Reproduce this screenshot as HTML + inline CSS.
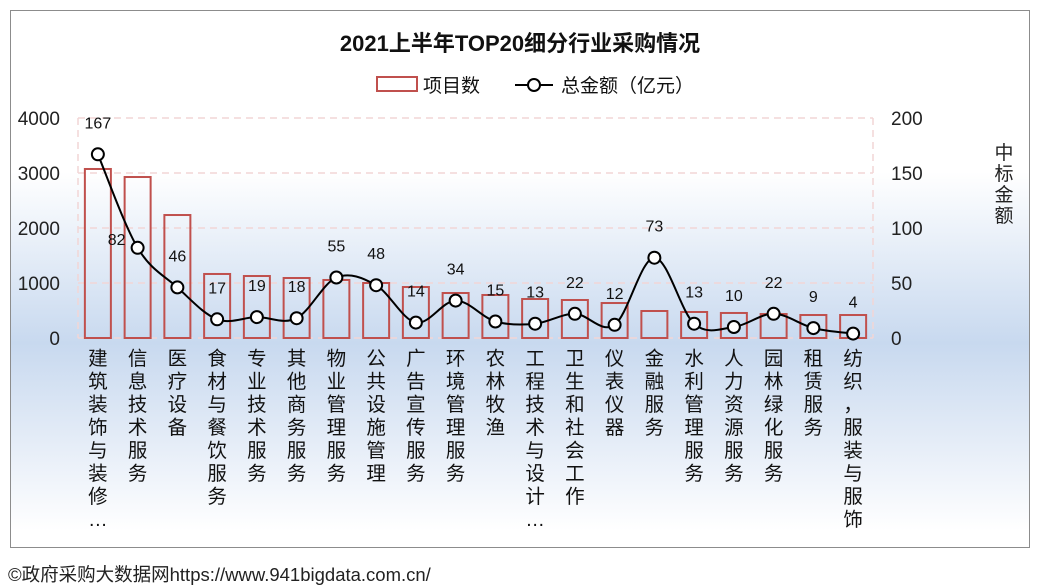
<!DOCTYPE html>
<html><head><meta charset="utf-8"><style>
body{margin:0;width:1040px;height:584px;background:#fff;font-family:"Liberation Sans","Noto Sans CJK SC",sans-serif;overflow:hidden}
#box{position:absolute;left:10px;top:10px;width:1018px;height:536px;border:1px solid #8c8c8c;background:linear-gradient(to bottom,#fff 0%,#fff 30%,#c8d9ef 62%,#e4ecf7 80%,#fff 97%)}
#foot{position:absolute;left:8px;top:561px;font-size:18.5px;color:#222}
</style></head><body>
<div id="box"></div>
<svg id="c" width="1040" height="584" style="position:absolute;left:0;top:0"></svg>
<div id="foot">©政府采购大数据网https://www.941bigdata.com.cn/</div>
<script>
const categories=["建筑装饰与装修…","信息技术服务","医疗设备","食材与餐饮服务","专业技术服务","其他商务服务","物业管理服务","公共设施管理","广告宣传服务","环境管理服务","农林牧渔","工程技术与设计…","卫生和社会工作","仪表仪器","金融服务","水利管理服务","人力资源服务","园林绿化服务","租赁服务","纺织，服装与服饰"];
const projectCounts=[3073,2927,2236,1164,1127,1091,1055,1000,927,818,782,709,691,636,491,473,455,436,418,418];
const amounts=[167,82,46,17,19,18,55,48,14,34,15,13,22,12,73,13,10,22,9,4];
const leftTicks=[0,1000,2000,3000,4000];
const rightTicks=[0,50,100,150,200];
const NS="http://www.w3.org/2000/svg",svg=document.getElementById('c');
function mk(t,a,p){const e=document.createElementNS(NS,t);for(const k in a)e.setAttribute(k,a[k]);(p||svg).appendChild(e);return e;}
const X0=78,X1=873,Y0=338,Y1=118,n=categories.length,bw=(X1-X0)/n;
const xc=i=>X0+bw*(i+0.5),yl=v=>Y0-(v/4000)*(Y0-Y1),yr=v=>Y0-(v/200)*(Y0-Y1);
let t=mk('text',{x:520,y:51,'text-anchor':'middle','font-size':22,'font-weight':'bold',fill:'#111'});t.textContent='2021上半年TOP20细分行业采购情况';


let lg=mk('g',{});


mk('rect',{x:377,y:77,width:40,height:14,fill:'none',stroke:'#c0504d','stroke-width':2},lg);
t=mk('text',{x:423,y:92,'font-size':19,fill:'#111'},lg);t.textContent='项目数';
mk('line',{x1:515,y1:85,x2:553,y2:85,stroke:'#000','stroke-width':2},lg);
mk('circle',{cx:534,cy:85,r:6,fill:'#fff',stroke:'#000','stroke-width':2},lg);
t=mk('text',{x:561,y:92,'font-size':19,fill:'#111'},lg);t.textContent='总金额（亿元）';
leftTicks.forEach((v,i)=>{
 if(v>0){const g=mk('line',{x1:X0,x2:X1,y1:yl(v),y2:yl(v),stroke:'#f2d6d6','stroke-width':1.5,'stroke-dasharray':'7,5'});
 
 }
 const tt=mk('text',{x:60,y:yl(v)+7,'text-anchor':'end','font-size':19,fill:'#222'});tt.textContent=v;
 
 
});
mk('line',{x1:X0,x2:X0,y1:Y1,y2:Y0,stroke:'#f2d6d6','stroke-width':1.5,'stroke-dasharray':'7,5'});
mk('line',{x1:X1,x2:X1,y1:Y1,y2:Y0,stroke:'#f2d6d6','stroke-width':1.5,'stroke-dasharray':'7,5'});
mk('line',{x1:X0,x2:X1,y1:Y0,y2:Y0,stroke:'#f2d6d6','stroke-width':1.5,'stroke-dasharray':'7,5'});
rightTicks.forEach(v=>{const tt=mk('text',{x:891,y:yr(v)+7,'font-size':19,fill:'#222'});tt.textContent=v;
 
 });
['中','标','金','额'].forEach((ch,i)=>{const tt=mk('text',{x:1004,y:159+i*21,'text-anchor':'middle','font-size':19,fill:'#222'});tt.textContent=ch;
 
 });
projectCounts.forEach((v,i)=>{const r=mk('rect',{x:xc(i)-13,y:yl(v),width:26,height:Y0-yl(v),fill:'none',stroke:'#c0504d','stroke-width':2});
 
 });
const pts=amounts.map((v,i)=>[xc(i),yr(v)]);
let d='M'+pts[0][0]+','+pts[0][1];
for(let i=0;i<pts.length-1;i++){const p0=pts[i-1]||pts[i],p1=pts[i],p2=pts[i+1],p3=pts[i+2]||p2,k=6;
 d+=` C${p1[0]+(p2[0]-p0[0])/k},${p1[1]+(p2[1]-p0[1])/k} ${p2[0]-(p3[0]-p1[0])/k},${p2[1]-(p3[1]-p1[1])/k} ${p2[0]},${p2[1]}`;}
const ln=mk('path',{d:d,fill:'none',stroke:'#000','stroke-width':2});


pts.forEach((p,i)=>{const c=mk('circle',{cx:p[0],cy:p[1],r:6,fill:'#fff',stroke:'#000','stroke-width':2});
 
 
 const dx=(i==1)?-21:0;
 const tt=mk('text',{x:p[0]+dx,y:(i==1?p[1]-3:p[1]-26),'text-anchor':'middle','font-size':16,fill:'#111'});tt.textContent=amounts[i];
 
 });
categories.forEach((c,i)=>{[...c].forEach((ch,j)=>{const tt=mk('text',{x:xc(i),y:365+j*23,'text-anchor':'middle','font-size':19.5,fill:'#111'});tt.textContent=ch;
 
 });});
</script>
</body></html>
